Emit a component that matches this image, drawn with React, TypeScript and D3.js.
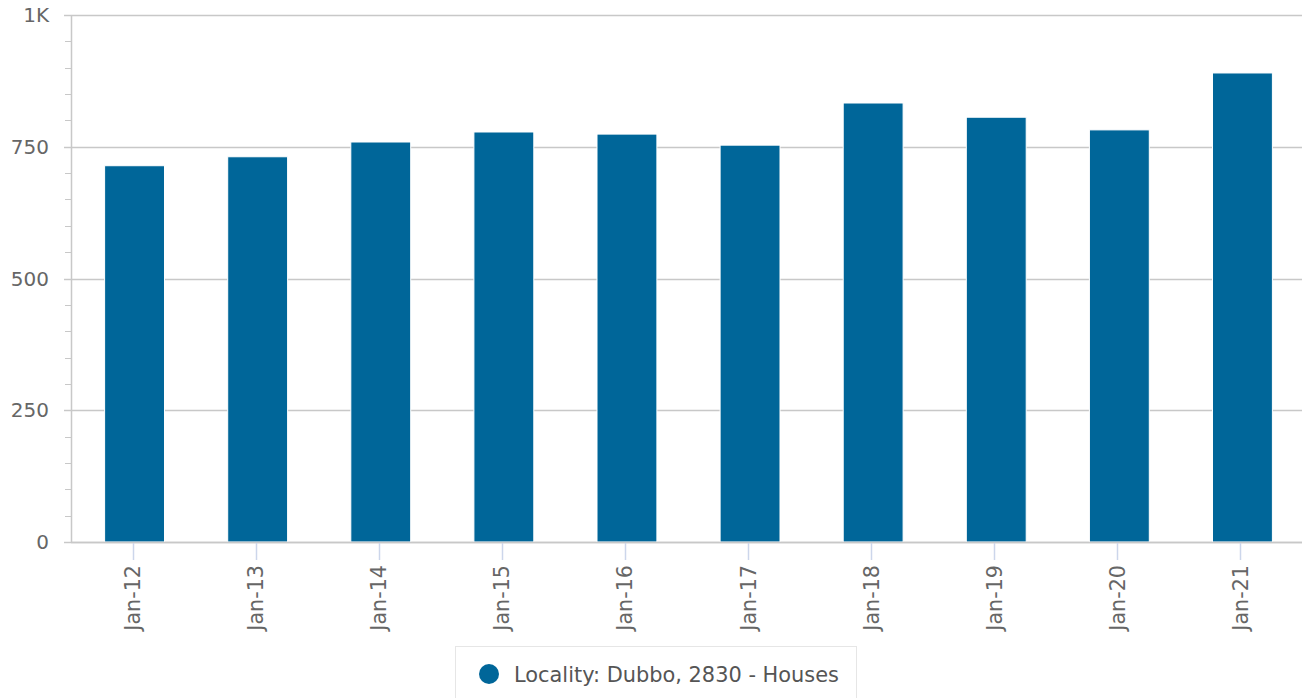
import React from "react";
import * as d3 from "d3";

const categories = ["Jan-12", "Jan-13", "Jan-14", "Jan-15", "Jan-16", "Jan-17", "Jan-18", "Jan-19", "Jan-20", "Jan-21"];
const values = [714, 731, 759, 778, 774, 753, 833, 806, 782, 890];
const yTicks = [0, 250, 500, 750, 1000];
const minorTicks = [50, 100, 150, 200, 300, 350, 400, 450, 550, 600, 650, 700, 800, 850, 900, 950];
const seriesName = "Locality: Dubbo, 2830 - Houses";

const W = 1302, H = 698;
const M = { left: 71, right: 1302, top: 15, bottom: 542 };
const FONT = "DejaVu Sans";

export default function App() {
  const x = d3.scaleBand<string>().domain(categories).range([M.left, M.right]).paddingInner(0.52).paddingOuter(0.26);
  const step = (M.right - M.left) / categories.length;
  const xc = (c: string) => M.left + step * (categories.indexOf(c) + 0.5);
  const y = d3.scaleLinear().domain([0, 1000]).range([M.bottom, M.top]);
  const fmt = (v: number) => (v >= 1000 ? `${v / 1000}K` : `${v}`);
  const bw = x.bandwidth() + 0.8;
  const barShift = 2;

  return (
    <div style={{ position: "fixed", left: 0, top: 0 }}>
      <svg width={W} height={H} style={{ display: "block" }}>
        <rect width={W} height={H} fill="#fff" />
        {yTicks.map((t) => (
          <g key={t}>
            <line x1={M.left} x2={M.right} y1={Math.round(y(t)) + 0.5} y2={Math.round(y(t)) + 0.5} stroke="#c8c8c8" strokeWidth={1.5} />
            <line x1={M.left - 7} x2={M.left} y1={Math.round(y(t)) + 0.5} y2={Math.round(y(t)) + 0.5} stroke="#c8c8c8" strokeWidth={1.5} />
            <text x={49} y={y(t) + 7} textAnchor="end" fontSize={20} fill="#666" fontFamily={FONT}>{fmt(t)}</text>
          </g>
        ))}
        {minorTicks.map((t) => (
          <line key={t} x1={M.left - 6} x2={M.left} y1={Math.round(y(t)) + 0.5} y2={Math.round(y(t)) + 0.5} stroke="#c8c8c8" strokeWidth={1} />
        ))}
        <line x1={M.left + 0.5} x2={M.left + 0.5} y1={M.top} y2={M.bottom} stroke="#c8c8c8" strokeWidth={1.5} />
        {categories.map((c, i) => (
          <rect key={c} x={xc(c) + barShift - bw / 2} y={y(values[i])} width={bw} height={M.bottom - y(values[i])} fill="#006699" stroke="#fff" strokeWidth={1} />
        ))}
        <line x1={M.left} x2={M.right} y1={M.bottom + 0.5} y2={M.bottom + 0.5} stroke="#c8c8c8" strokeWidth={1.5} />
        {categories.map((c) => (
          <g key={c}>
            <line x1={Math.round(xc(c)) + 0.5} x2={Math.round(xc(c)) + 0.5} y1={M.bottom + 1} y2={M.bottom + 18} stroke="#ccd6eb" strokeWidth={1.5} />
            <text transform={`translate(${xc(c) + 7.5},${M.bottom + 23}) rotate(-90)`} textAnchor="end" fontSize={20.7} fill="#666" fontFamily={FONT}>{c}</text>
          </g>
        ))}
        <rect x={455.5} y={646.5} width={401} height={60} fill="#fff" stroke="#e6e6e6" strokeWidth={1} />
        <circle cx={489} cy={674} r={10} fill="#006699" />
        <text x={514} y={681.5} fontSize={20.9} fill="#555" fontFamily={FONT}>{seriesName}</text>
      </svg>
    </div>
  );
}
